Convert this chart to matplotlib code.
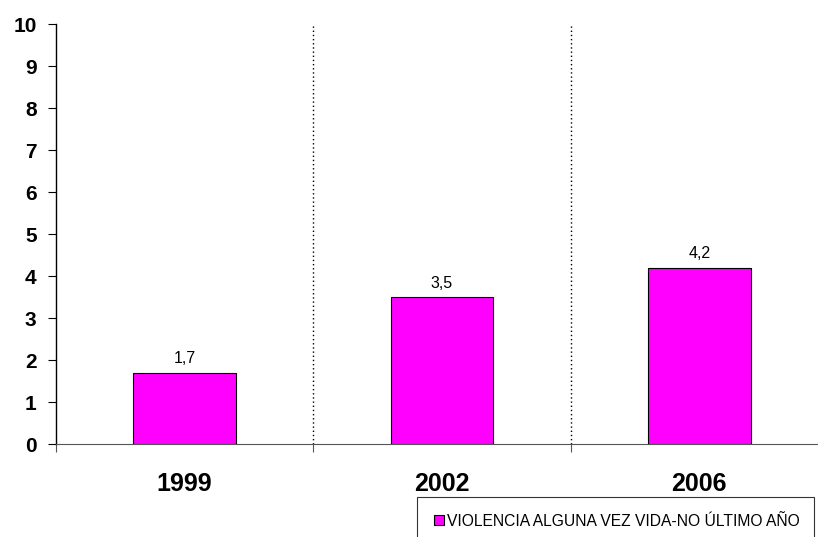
import matplotlib.pyplot as plt
import numpy as np

# data
years = ['1999', '2002', '2006']
values = [1.7, 3.5, 4.2]
value_labels = ['1,7', '3,5', '4,2']
legend_label = 'VIOLENCIA ALGUNA VEZ VIDA-NO ÚLTIMO AÑO'

plt.rcParams['font.family'] = ['Liberation Sans', 'DejaVu Sans']

fig = plt.figure(figsize=(8.18, 5.37), dpi=100)
ax = fig.add_axes([56/818, 1-444/537, 772/818, 420/537])

x = np.arange(len(years))
bars = ax.bar(x, values, width=0.4, color='#FF00FF', edgecolor='black', linewidth=0.8,
              label=legend_label, zorder=3)

for xi, v, lab in zip(x, values, value_labels):
    ax.text(xi, v + 0.15, lab, ha='center', va='bottom', fontsize=11.5)

# dotted separators between categories
for sep in [0.5, 1.5]:
    ax.axvline(sep, color='black', linestyle=(0, (1, 2)), linewidth=1, zorder=2)

ax.set_xlim(-0.5, 2.5)
ax.set_ylim(0, 10)
ax.set_yticks(range(0, 11))
ax.tick_params(axis='y', labelsize=15, length=6, direction='out', pad=8)
for t in ax.get_yticklabels():
    t.set_fontweight('bold')

# category boundary ticks on the x axis, labels centred
ax.set_xticks([-0.5, 0.5, 1.5, 2.5])
ax.set_xticklabels([])
ax.set_xticks(x, minor=True)
ax.set_xticklabels(years, minor=True, fontsize=18, fontweight='bold')
ax.tick_params(axis='x', which='major', length=6, direction='out', color='#555555')
ax.tick_params(axis='x', which='minor', length=0, pad=20)

ax.spines['top'].set_visible(False)
ax.spines['right'].set_visible(False)
ax.spines['left'].set_linewidth(1)
ax.spines['bottom'].set_color('#555555')

leg = fig.legend(loc='upper left', bbox_to_anchor=(417/818, 1-502/537, 397/818, 0.01),
                 mode='expand', fontsize=11.25, frameon=True, fancybox=False,
                 edgecolor='black', handlelength=0.6, handleheight=0.6,
                 handletextpad=0.2, borderpad=1.1, borderaxespad=0)
leg.get_frame().set_linewidth(0.8)

fig.savefig('out.png', dpi=100)
